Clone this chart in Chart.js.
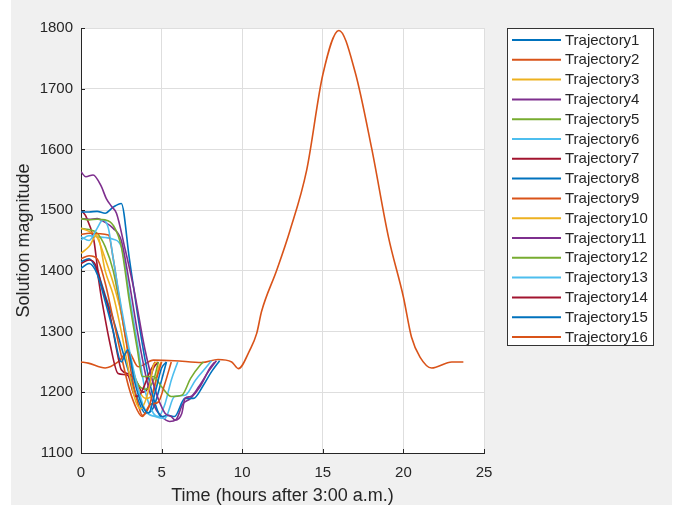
<!DOCTYPE html>
<html>
<head>
<meta charset="utf-8">
<script src="https://cdn.jsdelivr.net/npm/chart.js@4.4.1/dist/chart.umd.min.js"></script>
<style>
  html, body { margin: 0; padding: 0; background: #ffffff; }
  #wrap { width: 681px; height: 506px; position: relative; }
</style>
</head>
<body>
<div id="wrap"><canvas id="chart" width="681" height="506"></canvas></div>
<script>
// [time (hours after 3:00 a.m.), solution magnitude]
const traj1 = [[0,1404],[0.5,1412],[1,1395],[1.5,1350],[2,1300],[2.5,1250],[2.9,1270],[3.3,1220],[3.8,1178],[4.2,1166],[4.6,1200],[5,1240],[5.3,1250]];
const traj2 = [[0,1420],[0.5,1425],[1,1420],[1.5,1380],[2,1320],[2.5,1260],[3,1205],[3.5,1170],[3.8,1160],[4.3,1180],[4.8,1184],[5.2,1214],[5.6,1250]];
const traj3 = [[0,1429],[0.5,1440],[1,1460],[1.5,1400],[2,1360],[2.5,1300],[3,1230],[3.4,1185],[3.7,1173],[4.2,1204],[4.5,1245],[4.7,1250]];
const traj4 = [[0,1563],[0.3,1555],[0.75,1558],[1.26,1539],[1.57,1519],[1.9,1506],[2.2,1495],[2.7,1440],[3.25,1374],[3.97,1270],[4.6,1204],[5.2,1166],[5.6,1160],[5.85,1154],[6.25,1165],[6.45,1190],[6.8,1193],[7.3,1209],[7.9,1234],[8.4,1252]];
const traj5 = [[0,1486],[0.5,1484],[1,1485],[1.5,1484],[2,1475],[2.5,1440],[3,1350],[3.5,1270],[3.8,1226],[4.5,1226],[5,1209],[5.6,1193],[6.25,1195],[6.8,1223],[7.4,1245],[7.6,1250]];
const traj6 = [[0,1456],[0.5,1450],[1,1470],[1.36,1484],[1.7,1470],[2,1420],[2.5,1340],[3,1270],[3.5,1210],[4,1170],[4.6,1160],[5.2,1157],[5.8,1193],[6.45,1195],[7.1,1220],[7.7,1239],[8.1,1252]];
const traj7 = [[0,1412],[0.5,1418],[0.9,1410],[1.3,1350],[1.8,1280],[2.3,1231],[2.9,1228],[3.35,1193],[3.7,1198],[4.28,1234],[4.6,1250]];
const traj8 = [[0,1497],[0.5,1497],[1,1498],[1.5,1495],[2,1505],[2.5,1511],[3,1420],[3.5,1330],[4,1250],[4.5,1190],[5,1160],[5.4,1162],[5.8,1160],[6.45,1190],[6.97,1190],[7.6,1212],[8.1,1234],[8.6,1252]];
const traj9 = [[0,1460],[0.5,1462],[1.7,1459],[2,1420],[2.3,1368],[2.7,1300],[3.2,1220],[3.6,1175],[3.8,1162],[4.2,1175],[4.6,1215],[5,1250]];
const traj10 = [[0,1470],[0.5,1465],[1,1455],[1.5,1420],[2,1380],[2.5,1330],[3,1260],[3.5,1210],[4,1190],[4.5,1200],[4.8,1240],[5,1250]];
const traj11 = [[0,1486],[0.5,1485],[1,1486],[1.5,1480],[2,1470],[2.5,1450],[3,1380],[3.5,1300],[4,1230],[4.5,1180],[5,1160],[5.5,1152],[5.9,1155],[6.3,1180],[6.8,1190],[7.4,1210],[8,1240],[8.3,1250]];
const traj12 = [[0,1470],[0.5,1468],[1,1462],[1.5,1440],[2,1400],[2.5,1330],[3,1260],[3.5,1215],[4,1205],[4.5,1220],[4.8,1250]];
const traj13 = [[0,1451],[0.5,1458],[1,1456],[1.5,1455],[2,1452],[2.5,1440],[3,1360],[3.5,1280],[4,1200],[4.5,1165],[4.8,1160],[5.2,1180],[5.6,1220],[6,1250]];
const traj14 = [[0,1500],[0.3,1490],[0.8,1450],[1.05,1401],[1.78,1330],[2.3,1258],[2.5,1237],[3,1230],[3.5,1215],[3.8,1200],[4.1,1205],[4.5,1240],[4.8,1250]];
const traj15 = [[0,1415],[0.5,1420],[1,1400],[1.5,1360],[2,1320],[2.5,1275],[3,1230],[3.5,1190],[4,1165],[4.5,1175],[5,1220],[5.3,1250]];
const traj16 = [[0,1250],[0.45,1248],[1.5,1240],[2.3,1250],[2.93,1267],[3.55,1242],[4.5,1253],[5.8,1252],[7.5,1249],[8.5,1254],[9.35,1250],[9.76,1239],[10.48,1270],[10.9,1297],[11.2,1333],[12.14,1401],[12.97,1467],[14.0,1566],[15.0,1723],[16.0,1796],[17.0,1728],[18.03,1602],[19.07,1456],[20.0,1357],[20.5,1291],[21.03,1258],[21.75,1240],[23.0,1250],[23.72,1250]];

const trajectories = [traj1, traj2, traj3, traj4, traj5, traj6, traj7, traj8, traj9, traj10, traj11, traj12, traj13, traj14, traj15, traj16];
const labels = trajectories.map((t, i) => 'Trajectory' + (i + 1));
const palette = ['#0072BD', '#D95319', '#EDB120', '#7E2F8E', '#77AC30', '#4DBEEE', '#A2142F'];
const xTicks = [0, 5, 10, 15, 20, 25];
const yTicks = [1100, 1200, 1300, 1400, 1500, 1600, 1700, 1800];

const axisColor = '#262626';
const textColor = '#262626';
const fontFamily = '"Liberation Sans", Arial, sans-serif';

const decor = {
    id: 'decor',
    beforeDraw(chart) {
        const { ctx, chartArea: a } = chart;
        ctx.save();
        ctx.fillStyle = '#f0f0f0';
        ctx.fillRect(11, 0, 661, 505);
        ctx.fillStyle = '#ffffff';
        ctx.fillRect(a.left, a.top, a.right - a.left, a.bottom - a.top);
        ctx.restore();
    },
    afterDraw(chart) {
        const { ctx, chartArea: a, scales } = chart;
        ctx.save();
        // inward tick marks
        ctx.strokeStyle = axisColor;
        ctx.lineWidth = 1;
        ctx.beginPath();
        xTicks.forEach(v => {
            const px = Math.round(scales.x.getPixelForValue(v)) + 0.5;
            ctx.moveTo(px, a.bottom);
            ctx.lineTo(px, a.bottom - 4);
        });
        yTicks.forEach(v => {
            const py = Math.round(scales.y.getPixelForValue(v)) + 0.5;
            ctx.moveTo(a.left, py);
            ctx.lineTo(a.left + 4, py);
        });
        ctx.stroke();

        // legend box
        const bx = 507.5, by = 28.5, bw = 146, bh = 317;
        ctx.fillStyle = '#ffffff';
        ctx.fillRect(bx, by, bw, bh);
        ctx.strokeStyle = '#333333';
        ctx.strokeRect(bx, by, bw, bh);
        ctx.font = '15px ' + fontFamily;
        ctx.textBaseline = 'middle';
        ctx.fillStyle = textColor;
        chart.data.datasets.forEach((ds, i) => {
            const y = 40 + i * 19.8;
            ctx.strokeStyle = ds.borderColor;
            ctx.lineWidth = 2;
            ctx.beginPath();
            ctx.moveTo(512, y);
            ctx.lineTo(561, y);
            ctx.stroke();
            ctx.fillText(ds.label, 565, y + 0.5);
        });
        ctx.restore();
    }
};

new Chart(document.getElementById('chart'), {
    type: 'line',
    data: {
        datasets: trajectories.map((pts, i) => ({
            label: labels[i],
            data: pts.map(p => ({ x: p[0], y: p[1] })),
            borderColor: palette[i % palette.length],
            backgroundColor: palette[i % palette.length],
            borderWidth: 1.6,
            pointRadius: 0,
            cubicInterpolationMode: 'monotone',
            fill: false
        }))
    },
    options: {
        responsive: false,
        animation: false,
        layout: { padding: { left: 0, top: 28, right: 197, bottom: 0 } },
        plugins: {
            legend: { display: false },
            tooltip: { enabled: false }
        },
        scales: {
            x: {
                type: 'linear',
                min: 0,
                max: 25,
                afterFit: s => { s.height = 53; },
                afterBuildTicks: s => { s.ticks = xTicks.map(v => ({ value: v })); },
                grid: { color: '#dedede', drawTicks: false },
                border: { display: true, color: axisColor, width: 1 },
                ticks: { color: textColor, font: { family: fontFamily, size: 15 }, padding: 11, maxRotation: 0, callback: v => String(v) },
                title: { display: true, text: 'Time (hours after 3:00 a.m.)', color: textColor, font: { family: fontFamily, size: 18, lineHeight: 1 }, padding: { top: 0, bottom: 1 } }
            },
            y: {
                type: 'linear',
                min: 1100,
                max: 1800,
                afterFit: s => { s.width = 81; },
                afterBuildTicks: s => { s.ticks = yTicks.map(v => ({ value: v })); },
                grid: { color: '#dedede', drawTicks: false },
                border: { display: true, color: axisColor, width: 1 },
                ticks: { color: textColor, font: { family: fontFamily, size: 15 }, padding: 8, callback: v => String(v) },
                title: { display: true, text: 'Solution magnitude', color: textColor, font: { family: fontFamily, size: 18, lineHeight: 1 }, padding: { top: 15, bottom: 0 } }
            }
        }
    },
    plugins: [decor]
});
</script>
</body>
</html>
